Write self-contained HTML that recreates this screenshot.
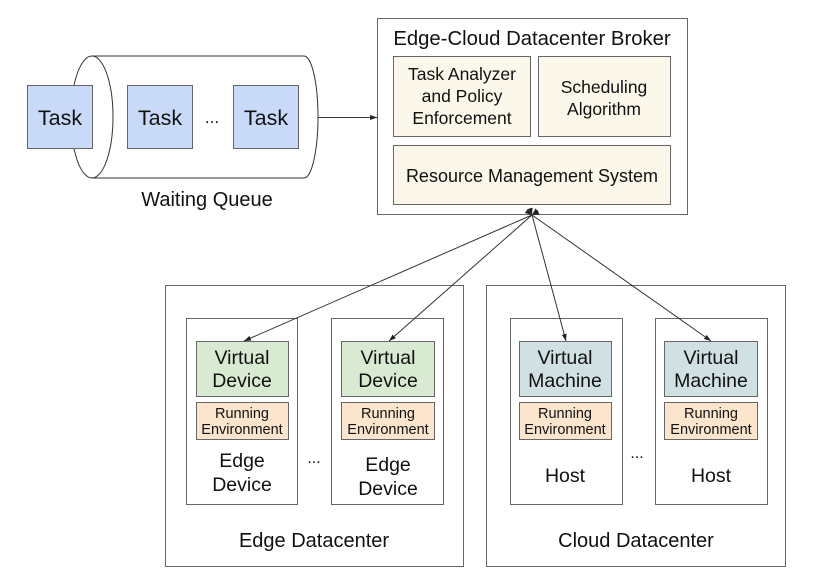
<!DOCTYPE html>
<html><head><meta charset="utf-8"><style>body{margin:0;background:#fff}svg{display:block}text{font-family:"Liberation Sans",Arial,sans-serif;fill:#111}</style></head><body>
<svg width="830" height="579" viewBox="0 0 830 579" xmlns="http://www.w3.org/2000/svg">
<defs><marker id="a" markerWidth="8" markerHeight="8" refX="7" refY="4" orient="auto" markerUnits="userSpaceOnUse"><path d="M0,1.5 L7,4 L0,6.5 Z" fill="#222"/></marker></defs>
<path d="M92,56 L304,56 A14,61 0 0 1 304,178 L92,178" fill="#fff" stroke="#333" stroke-width="1"/>
<ellipse cx="92" cy="117" rx="21" ry="61" fill="#fff" stroke="#333" stroke-width="1"/>
<g stroke="#666" stroke-width="1" fill="#c9daf8">
<rect x="27.5" y="85.5" width="65" height="63"/>
<rect x="127.5" y="85.5" width="65" height="63"/>
<rect x="233.5" y="85.5" width="65" height="63"/>
</g>
<g font-size="21.5" text-anchor="middle">
<text x="60" y="125">Task</text><text x="160" y="125">Task</text><text x="266" y="125">Task</text>
<text x="212" y="123" font-size="17">...</text>
<text x="207" y="206" font-size="20">Waiting Queue</text>
</g>
<line x1="318" y1="117.5" x2="377" y2="117.5" stroke="#333" marker-end="url(#a)"/>
<rect x="377.5" y="18.5" width="310" height="196" fill="#fff" stroke="#666"/>
<text x="532" y="45" font-size="20.3" text-anchor="middle">Edge-Cloud Datacenter Broker</text>
<g fill="#fbf7ea" stroke="#666">
<rect x="393.5" y="56.5" width="137" height="80"/>
<rect x="538.5" y="56.5" width="132" height="80"/>
<rect x="393.5" y="145.5" width="277" height="59"/>
</g>
<g font-size="17.5" text-anchor="middle">
<text x="462" y="80">Task Analyzer</text><text x="462" y="102">and Policy</text><text x="462" y="124">Enforcement</text>
<text x="604" y="93">Scheduling</text><text x="604" y="115">Algorithm</text>
<text x="532" y="182" font-size="18">Resource Management System</text>
</g>
<g fill="#fff" stroke="#666">
<rect x="165.5" y="285.5" width="298" height="281"/>
<rect x="486.5" y="285.5" width="299" height="281"/>
<rect x="186.5" y="318.5" width="111" height="186"/>
<rect x="331.5" y="318.5" width="112" height="186"/>
<rect x="510.5" y="318.5" width="112" height="186"/>
<rect x="655.5" y="318.5" width="112" height="186"/>
</g>
<g stroke="#666">
<rect x="196.5" y="341.5" width="92" height="55" fill="#d9ead3"/>
<rect x="341.5" y="341.5" width="93" height="55" fill="#d9ead3"/>
<rect x="519.5" y="341.5" width="92" height="55" fill="#d0e0e3"/>
<rect x="664.5" y="341.5" width="93" height="55" fill="#d0e0e3"/>
<rect x="196.5" y="402.5" width="92" height="37" fill="#fce5cd"/>
<rect x="341.5" y="402.5" width="93" height="37" fill="#fce5cd"/>
<rect x="519.5" y="402.5" width="92" height="37" fill="#fce5cd"/>
<rect x="664.5" y="402.5" width="93" height="37" fill="#fce5cd"/>
</g>
<g font-size="19.5" text-anchor="middle">
<text x="242" y="364">Virtual</text><text x="242" y="387">Device</text>
<text x="388" y="364">Virtual</text><text x="388" y="387">Device</text>
<text x="565" y="364">Virtual</text><text x="565" y="387">Machine</text>
<text x="711" y="364">Virtual</text><text x="711" y="387">Machine</text>
<text x="242" y="467">Edge</text><text x="242" y="491">Device</text>
<text x="388" y="471">Edge</text><text x="388" y="495">Device</text>
<text x="565" y="482">Host</text><text x="711" y="482">Host</text>
<text x="314" y="547" font-size="20">Edge Datacenter</text>
<text x="636" y="547" font-size="20">Cloud Datacenter</text>
<text x="314" y="463" font-size="16">...</text>
<text x="637" y="458" font-size="16">...</text>
</g>
<g font-size="14.5" text-anchor="middle">
<text x="242" y="418">Running</text><text x="242" y="434">Environment</text>
<text x="388" y="418">Running</text><text x="388" y="434">Environment</text>
<text x="565" y="418">Running</text><text x="565" y="434">Environment</text>
<text x="711" y="418">Running</text><text x="711" y="434">Environment</text>
</g>
<g stroke="#333" marker-end="url(#a)" marker-start="url(#a)">
<line x1="532" y1="215" x2="244" y2="341"/>
<line x1="532" y1="215" x2="389" y2="341"/>
<line x1="532" y1="215" x2="566" y2="341"/>
<line x1="532" y1="215" x2="711" y2="341"/>
</g>
</svg>
</body></html>
